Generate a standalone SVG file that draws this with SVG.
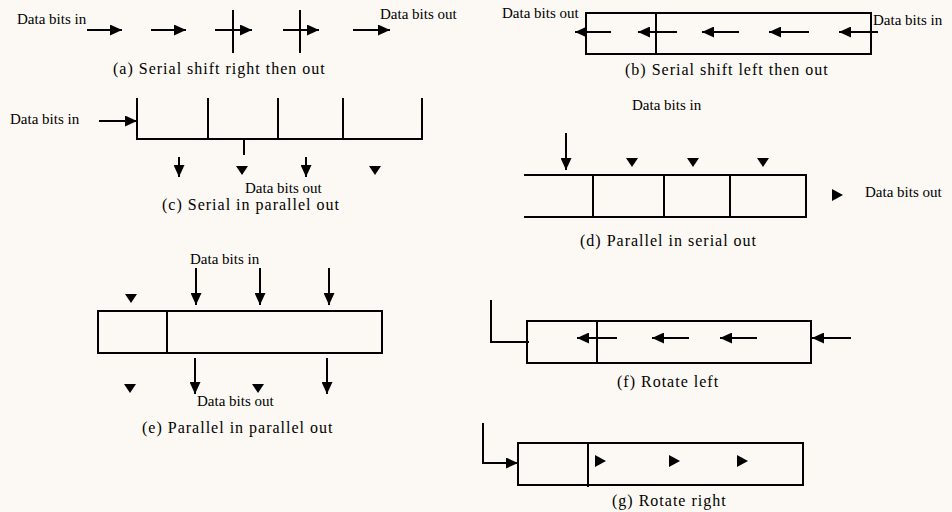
<svg xmlns="http://www.w3.org/2000/svg" width="952" height="512" viewBox="0 0 952 512">
<style>
.ln{stroke:#000;stroke-width:2;fill:none}
.bx{stroke:#000;stroke-width:2;fill:none}
.ar{stroke:#000;stroke-width:2;fill:none;marker-end:url(#ah)}
.hd{fill:#000}
.lb{font-family:"Liberation Serif","Times New Roman",serif;font-size:15px;fill:#000}
.cp{font-family:"Liberation Serif","Times New Roman",serif;font-size:16px;letter-spacing:1px;fill:#000}
</style>
<defs>
<marker id="ah" markerUnits="userSpaceOnUse" markerWidth="12" markerHeight="11" refX="12" refY="5.5" orient="auto" viewBox="0 0 12 11">
<path d="M0,0 L12,5.5 L0,11 z" fill="#000"/>
</marker>
<path id="dn" d="M-6,-9 L6,-9 L0,0 z"/>
<path id="rt" d="M-11,-6 L0,0 L-11,6 z"/>
</defs>
<rect width="952" height="512" fill="#fcf9f4"/>

<g id="panel-a">
<line class="ln" x1="233" y1="10" x2="233" y2="53"/>
<line class="ln" x1="300" y1="10" x2="300" y2="53"/>
<text class="lb" x="17" y="24">Data bits in</text>
<text class="lb" x="380" y="19">Data bits out</text>
<text class="cp" x="113" y="74">(a) Serial shift right then out</text>
</g>

<g id="panel-b">
<rect class="bx" x="586" y="13" width="285" height="41"/>
<line class="ln" x1="656" y1="13" x2="656" y2="54"/>
<text class="lb" x="502" y="18">Data bits out</text>
<text class="lb" x="873" y="25">Data bits in</text>
<text class="cp" x="625" y="75">(b) Serial shift left then out</text>
</g>

<g id="panel-c">
<path class="bx" d="M137,98 V139 H422 V98"/>
<line class="ln" x1="208" y1="98" x2="208" y2="139"/>
<line class="ln" x1="278" y1="98" x2="278" y2="139"/>
<line class="ln" x1="343" y1="98" x2="343" y2="139"/>
<line class="ln" x1="244" y1="139" x2="244" y2="155"/>
<text class="lb" x="10" y="124">Data bits in</text>
<text class="lb" x="245" y="193">Data bits out</text>
<text class="cp" x="162" y="210">(c) Serial in parallel out</text>
</g>

<g id="panel-d">
<path class="bx" d="M524,175 H806 V217 H524"/>
<line class="ln" x1="593" y1="175" x2="593" y2="217"/>
<line class="ln" x1="664" y1="175" x2="664" y2="217"/>
<line class="ln" x1="730" y1="175" x2="730" y2="217"/>
<text class="lb" x="632" y="110">Data bits in</text>
<text class="lb" x="865" y="197">Data bits out</text>
<text class="cp" x="580" y="246">(d) Parallel in serial out</text>
</g>

<g id="panel-e">
<rect class="bx" x="98" y="311" width="284" height="42"/>
<line class="ln" x1="167" y1="311" x2="167" y2="353"/>
<text class="lb" x="190" y="264">Data bits in</text>
<text class="lb" x="197" y="406">Data bits out</text>
<text class="cp" x="142" y="433">(e) Parallel in parallel out</text>
</g>

<g id="panel-f">
<rect class="bx" x="527" y="321" width="284" height="42"/>
<line class="ln" x1="597" y1="321" x2="597" y2="363"/>
<text class="cp" x="617" y="387">(f) Rotate left</text>
</g>

<g id="panel-g">
<rect class="bx" x="518" y="443" width="285" height="42"/>
<line class="ln" x1="588" y1="443" x2="588" y2="487"/>
<text class="cp" x="612" y="506">(g) Rotate right</text>
</g>

<g id="connectors">
<!-- (a) -->
<line class="ar" x1="87" y1="30" x2="122" y2="30"/>
<line class="ar" x1="151" y1="30" x2="186" y2="30"/>
<line class="ar" x1="215" y1="30" x2="252" y2="30"/>
<line class="ar" x1="283" y1="30" x2="319" y2="30"/>
<line class="ar" x1="353" y1="30" x2="390" y2="30"/>
<!-- (b) -->
<line class="ar" x1="611" y1="32" x2="575" y2="32"/>
<line class="ar" x1="677" y1="32" x2="638" y2="32"/>
<line class="ar" x1="739" y1="32" x2="702" y2="32"/>
<line class="ar" x1="809" y1="32" x2="769" y2="32"/>
<line class="ar" x1="878" y1="32" x2="839" y2="32"/>
<!-- (c) -->
<line class="ar" x1="99" y1="121" x2="137" y2="121"/>
<line class="ar" x1="179" y1="157" x2="179" y2="177"/>
<line class="ar" x1="306" y1="157" x2="306" y2="177"/>
<use href="#dn" class="hd" x="242" y="175"/>
<use href="#dn" class="hd" x="375" y="175"/>
<!-- (d) -->
<line class="ar" x1="566" y1="133" x2="566" y2="170"/>
<use href="#dn" class="hd" x="632" y="167"/>
<use href="#dn" class="hd" x="693" y="167"/>
<use href="#dn" class="hd" x="763" y="167"/>
<use href="#rt" class="hd" x="843" y="195"/>
<!-- (e) -->
<line class="ar" x1="196" y1="268" x2="196" y2="305"/>
<line class="ar" x1="260" y1="268" x2="260" y2="305"/>
<line class="ar" x1="329" y1="268" x2="329" y2="305"/>
<use href="#dn" class="hd" x="131" y="303"/>
<line class="ar" x1="195" y1="358" x2="195" y2="394"/>
<line class="ar" x1="327" y1="358" x2="327" y2="394"/>
<use href="#dn" class="hd" x="130" y="393"/>
<use href="#dn" class="hd" x="258" y="393"/>
<!-- (f) -->
<path class="ln" d="M491,300 V342 H529"/>
<line class="ar" x1="617" y1="338" x2="577" y2="338"/>
<line class="ar" x1="689" y1="338" x2="652" y2="338"/>
<line class="ar" x1="757" y1="338" x2="720" y2="338"/>
<line class="ar" x1="851" y1="338" x2="812" y2="338"/>
<!-- (g) -->
<path class="ar" d="M483,423 V463 H518"/>
<use href="#rt" class="hd" x="606" y="461"/>
<use href="#rt" class="hd" x="680" y="461"/>
<use href="#rt" class="hd" x="748" y="461"/>
</g>
</svg>
